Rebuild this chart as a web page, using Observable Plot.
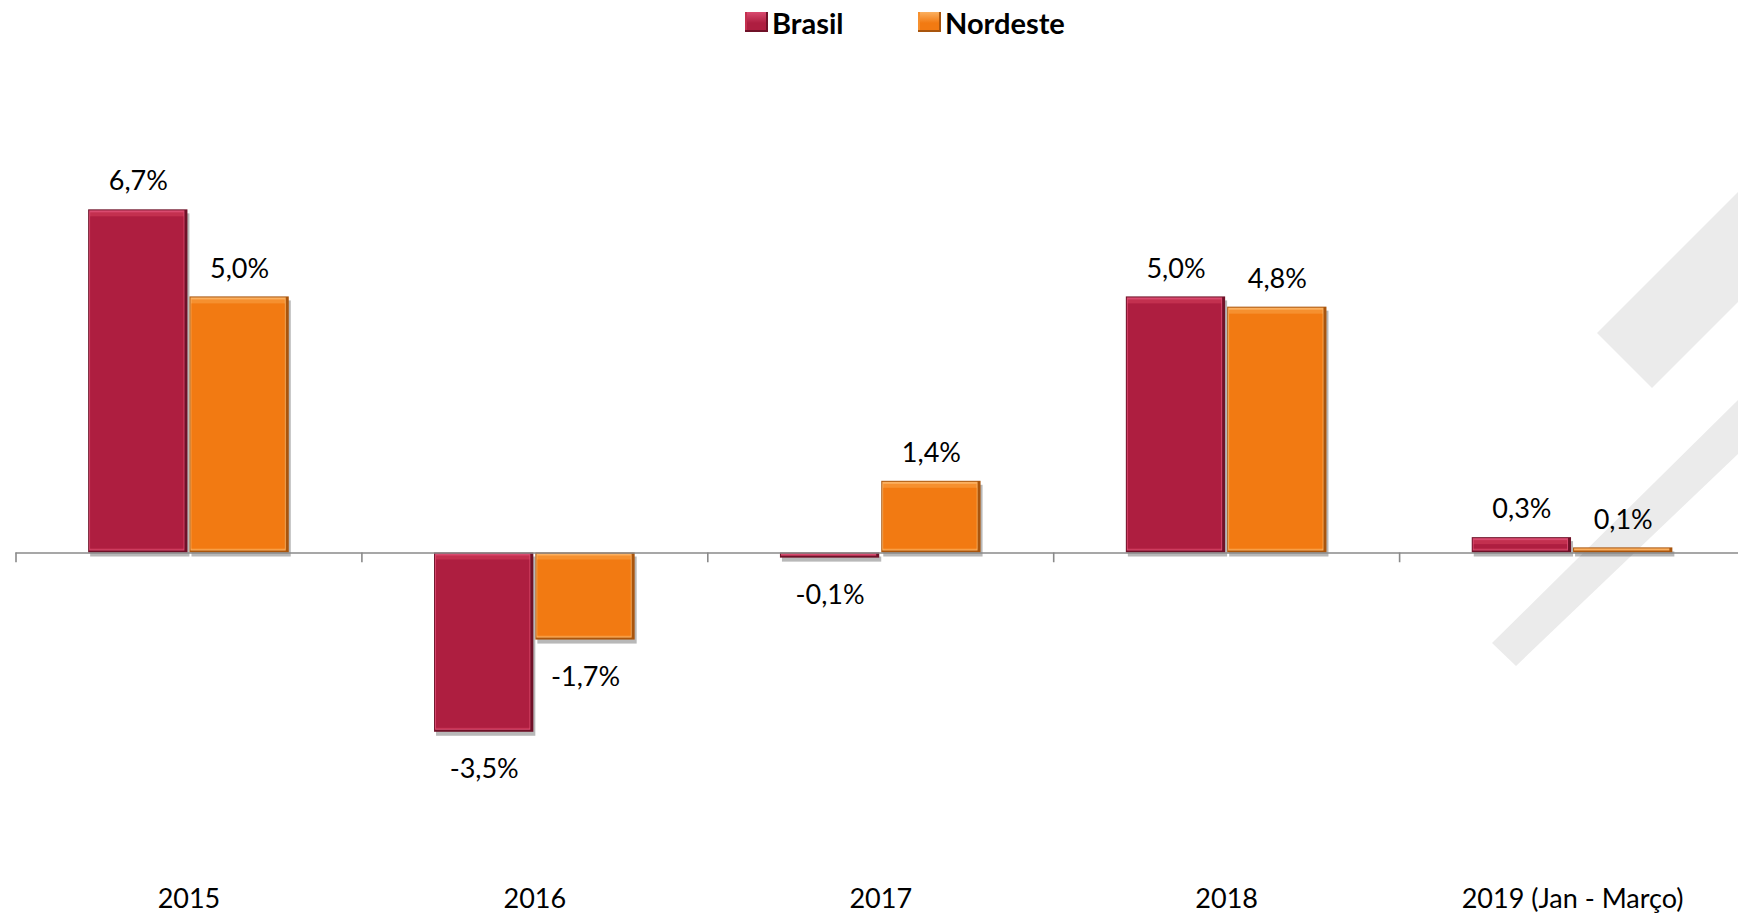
<!DOCTYPE html>
<html lang="pt">
<head>
<meta charset="utf-8">
<script src="https://cdn.jsdelivr.net/npm/d3@7"></script>
<script src="https://cdn.jsdelivr.net/npm/@observablehq/plot@0.6"></script>
<style>
  html, body { margin: 0; padding: 0; background: #fff; overflow: hidden; }
  #page { position: relative; width: 1738px; height: 914px; font-family: Lato, "Open Sans", sans-serif; }
  #watermark { position: absolute; left: 0; top: 0; width: 1738px; height: 914px; z-index: 0; }
  #legend { position: relative; z-index: 1; height: 48px; display: flex; align-items: center; padding-left: 745px; padding-bottom: 4px; box-sizing: border-box; }
  .item { display: flex; align-items: center; font-weight: 700; font-size: 29px; color: #000; }
  .item.first { width: 173px; }
  .sw { width: 23px; height: 20px; margin-right: 4px; box-sizing: border-box; }
  #chart { position: relative; z-index: 1; }
  #chart svg { background: transparent !important; }
</style>
</head>
<body>
<div id="page">
  <svg id="watermark" viewBox="0 0 1738 914">
    <polygon points="1597,333 1740,190 1740,300 1652,388" fill="#ebebeb"/>
    <polygon points="1492,643 1740,398 1740,452 1516,666" fill="#ebebeb"/>
  </svg>
  <div id="legend"></div>
  <div id="chart"></div>
</div>
<script>
// ---- data ----
const categories = ["2015", "2016", "2017", "2018", "2019 (Jan - Março)"];
const series = ["Brasil", "Nordeste"];
const brasil = [6.7, -3.5, -0.1, 5.0, 0.3];
const nordeste = [5.0, -1.7, 1.4, 4.8, 0.1];

// ---- styles ----
const palette = {
  Brasil:   {face: "#ae1e40", mid: "#c3304f", light: "#d94a6f", dark: "#6f1128"},
  Nordeste: {face: "#f27a12", mid: "#f6902f", light: "#fbb060", dark: "#a9550d"}
};

const values = {Brasil: brasil, Nordeste: nordeste};
const data = categories.flatMap((cat, i) =>
  series.map(s => ({i, cat, series: s, value: values[s][i]}))
);

// within-category band for the two series
const inner = d3.scaleBand().domain(series).range([-0.29, 0.29]).paddingInner(0.02);
const bw = inner.bandwidth();
const x1 = d => d.i + inner(d.series);
const x2 = d => d.i + inner(d.series) + bw;
const xc = d => d.i + inner(d.series) + bw / 2;
const fmt = d => d.value.toFixed(1).replace(".", ",") + "%";
const boundaries = d3.range(categories.length + 1).map(k => k - 0.5);

// legend
const legend = document.getElementById("legend");
series.forEach((s, k) => {
  const item = document.createElement("div");
  item.className = "item" + (k === 0 ? " first" : "");
  const sw = document.createElement("div");
  sw.className = "sw";
  const p = palette[s];
  sw.style.background = `linear-gradient(to bottom, ${p.light} 0%, ${p.face} 55%, ${p.face} 100%)`;
  sw.style.boxShadow = `inset -2px -2px 0 ${p.dark}, inset 2px 0 0 ${p.mid}`;
  const t = document.createElement("span");
  t.textContent = s;
  item.appendChild(sw);
  item.appendChild(t);
  legend.appendChild(item);
});

const chart = Plot.plot({
  width: 1738,
  height: 866,
  marginLeft: 15.5,
  marginRight: -7,
  marginTop: 0,
  marginBottom: 26,
  style: {fontFamily: "Lato, 'Open Sans', sans-serif", fontSize: "27px", color: "#000", background: "transparent"},
  x: {type: "linear", domain: [-0.5, categories.length - 0.5]},
  y: {domain: [-6.55, 9.85], axis: null},
  marks: [
    // soft shadow
    Plot.rect(data, {x1, x2, y1: 0, y2: "value", fill: "#000", fillOpacity: 0.28, dx: 2, dy: 4, ariaLabel: "shadow"}),
    // bevel layers
    Plot.rect(data, {x1, x2, y1: 0, y2: "value", fill: d => palette[d.series].dark, ariaLabel: "edge"}),
    Plot.rect(data, {x1, x2, y1: 0, y2: "value", fill: d => palette[d.series].light,
      insetLeft: 1, insetTop: 1, insetRight: 3, insetBottom: 2, ariaLabel: "light"}),
    Plot.rect(data, {filter: d => Math.abs(d.value) >= 0.25, x1, x2, y1: 0, y2: "value", fill: d => palette[d.series].mid,
      insetLeft: 2, insetTop: 3, insetRight: 4, insetBottom: 3, ariaLabel: "mid"}),
    Plot.rect(data, {filter: d => Math.abs(d.value) >= 0.25, x1, x2, y1: 0, y2: "value", fill: d => palette[d.series].face,
      insetLeft: 2, insetTop: 7, insetRight: 4, insetBottom: 4, ariaLabel: "face"}),
    // category axis line and ticks
    Plot.ruleY([0], {stroke: "#8a8a8a", strokeWidth: 1.6}),
    Plot.ruleX(boundaries, {x: d => d, y1: 0, y2: -0.19, stroke: "#8a8a8a", strokeWidth: 1.6}),
    Plot.axisX({ticks: categories.map((_, i) => i), tickFormat: i => categories[i],
      tickSize: 0, tickPadding: 0, fill: "#000", fontSize: 27}),
    // value labels
    Plot.text(data, {filter: d => d.value >= 0, x: xc, y: "value", text: fmt, dy: -28, fill: "#000", fontSize: 27}),
    Plot.text(data, {filter: d => d.value < 0, x: xc, y: "value", text: fmt, dy: 37, fill: "#000", fontSize: 27})
  ]
});

// blur for the shadow layer
const svg = d3.select(chart);
const defs = svg.insert("defs", ":first-child");
defs.append("filter").attr("id", "softShadow").attr("x", "-20%").attr("y", "-20%").attr("width", "140%").attr("height", "140%")
  .append("feGaussianBlur").attr("stdDeviation", 2.5);
svg.select('g[aria-label="shadow"]').attr("filter", "url(#softShadow)");

document.getElementById("chart").appendChild(chart);
</script>
</body>
</html>
